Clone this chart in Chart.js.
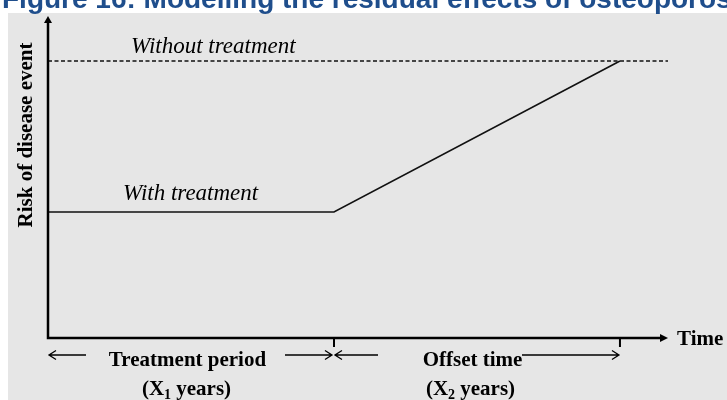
<!DOCTYPE html>
<html>
<head>
<meta charset="utf-8">
<script src="https://cdn.jsdelivr.net/npm/chart.js@4.4.1/dist/chart.umd.min.js"></script>
<style>
    html, body { margin: 0; padding: 0; background: #ffffff; }
    #wrap { width: 727px; height: 400px; }
</style>
</head>
<body>
<div id="wrap"><canvas id="residual-chart" width="727" height="400"></canvas></div>
<script>
// Figure 16 - residual effect of treatment (schematic)

const titleText = 'Figure 16: Modelling the residual effects of osteoporosis treatment';
const yAxisTitle = 'Risk of disease event';
const xAxisTitle = 'Time';

// time in "periods": 0 = start, 1 = end of treatment (X1), 2 = end of offset time (X2)
const timeWithTreatment = [0, 1, 2];
const riskWithTreatment = [0.455, 0.455, 1.0];
const timeWithoutTreatment = [0, 2.168];
const riskWithoutTreatment = [1.0, 1.0];

const seriesLabels = ['With treatment', 'Without treatment'];
const periodTicks = [1, 2];
const periodNames = ['Treatment period', 'Offset time'];
const periodYears = [['X', '1', ' years'], ['X', '2', ' years']];

const serif = '"Liberation Serif", "Times New Roman", serif';

function toPoints(xs, ys) {
    return xs.map((x, i) => ({ x: x, y: ys[i] }));
}

function arrow(ctx, x1, x2, y, head) {
    // thin line with open arrow head at x2
    const dir = x2 > x1 ? 1 : -1;
    ctx.beginPath();
    ctx.moveTo(x1, y);
    ctx.lineTo(x2, y);
    ctx.moveTo(x2 - dir * head, y - 4.5);
    ctx.lineTo(x2, y);
    ctx.lineTo(x2 - dir * head, y + 4.5);
    ctx.stroke();
}

function drawYears(ctx, parts, cx, y) {
    ctx.font = 'bold 21px ' + serif;
    const a = '(' + parts[0];
    const c = parts[2] + ')';
    const wa = ctx.measureText(a).width;
    const wc = ctx.measureText(c).width;
    ctx.font = 'bold 14px ' + serif;
    const wb = ctx.measureText(parts[1]).width;
    let x = cx - (wa + wb + wc) / 2;
    ctx.textAlign = 'left';
    ctx.font = 'bold 21px ' + serif;
    ctx.fillText(a, x, y);
    x += wa;
    ctx.font = 'bold 14px ' + serif;
    ctx.fillText(parts[1], x, y + 4);
    x += wb;
    ctx.font = 'bold 21px ' + serif;
    ctx.fillText(c, x, y);
}

const backgroundPlugin = {
    id: 'panel',
    beforeDraw(chart) {
        const ctx = chart.ctx;
        ctx.save();
        ctx.fillStyle = '#ffffff';
        ctx.fillRect(0, 0, chart.width, chart.height);
        ctx.fillStyle = '#e6e6e6';
        ctx.fillRect(8, 13, chart.width - 8, chart.height - 13);
        // title, clipped by the top of the picture
        ctx.fillStyle = '#1f4e8c';
        ctx.font = 'bold 28px "Liberation Sans", Arial, sans-serif';
        ctx.textBaseline = 'alphabetic';
        ctx.fillText(titleText, 2, 8);
        ctx.restore();
    }
};

const axesPlugin = {
    id: 'schemaAxes',
    afterDatasetsDraw(chart) {
        const ctx = chart.ctx;
        const area = chart.chartArea;
        const xs = chart.scales.x;
        const ys = chart.scales.y;
        const x0 = xs.getPixelForValue(0);
        const y0 = ys.getPixelForValue(0);

        ctx.save();
        ctx.strokeStyle = '#000000';
        ctx.fillStyle = '#000000';

        // axes
        ctx.lineWidth = 2.5;
        ctx.beginPath();
        ctx.moveTo(x0, area.top + 5);
        ctx.lineTo(x0, y0);
        ctx.lineTo(area.right - 6, y0);
        ctx.stroke();
        // arrow heads
        ctx.beginPath();
        ctx.moveTo(x0, area.top);
        ctx.lineTo(x0 - 4, area.top + 7);
        ctx.lineTo(x0 + 4, area.top + 7);
        ctx.closePath();
        ctx.fill();
        ctx.beginPath();
        ctx.moveTo(area.right, y0);
        ctx.lineTo(area.right - 8, y0 - 4);
        ctx.lineTo(area.right - 8, y0 + 4);
        ctx.closePath();
        ctx.fill();

        // ticks at end of each period
        ctx.lineWidth = 2;
        periodTicks.forEach(t => {
            const px = xs.getPixelForValue(t);
            ctx.beginPath();
            ctx.moveTo(px, y0);
            ctx.lineTo(px, y0 + 9);
            ctx.stroke();
        });

        // period arrows
        ctx.lineWidth = 1.3;
        const ay = y0 + 17;
        const p1 = xs.getPixelForValue(1);
        const p2 = xs.getPixelForValue(2);
        arrow(ctx, x0 + 38, x0 + 1, ay, 7);
        arrow(ctx, 285, p1 - 2, ay, 7);
        arrow(ctx, 378, p1 + 1, ay, 7);
        arrow(ctx, 522, p2 - 1, ay, 7);

        // period labels
        ctx.textBaseline = 'alphabetic';
        ctx.textAlign = 'center';
        ctx.font = 'bold 21px ' + serif;
        ctx.fillText(periodNames[0], 187.5, 366);
        ctx.fillText(periodNames[1], 472.5, 366);
        drawYears(ctx, periodYears[0], 186.5, 395);
        drawYears(ctx, periodYears[1], 470.5, 395);

        // axis titles
        ctx.textAlign = 'left';
        ctx.font = 'bold 21px ' + serif;
        ctx.textBaseline = 'middle';
        ctx.fillText(xAxisTitle, 677, y0 + 2);
        ctx.save();
        ctx.translate(27, 135);
        ctx.rotate(-Math.PI / 2);
        ctx.textAlign = 'center';
        ctx.fillText(yAxisTitle, 0, 0);
        ctx.restore();

        // series labels
        ctx.textBaseline = 'alphabetic';
        ctx.textAlign = 'left';
        ctx.font = 'italic 23px ' + serif;
        ctx.fillText(seriesLabels[1], 131, 53);
        ctx.fillText(seriesLabels[0], 123, 200);
        ctx.restore();
    }
};

const ctx = document.getElementById('residual-chart').getContext('2d');
const residualChart = new Chart(ctx, {
    type: 'line',
    data: {
        datasets: [
            {
                label: seriesLabels[0],
                data: toPoints(timeWithTreatment, riskWithTreatment),
                borderColor: '#111111',
                borderWidth: 1.6,
                pointRadius: 0,
                tension: 0
            },
            {
                label: seriesLabels[1],
                data: toPoints(timeWithoutTreatment, riskWithoutTreatment),
                borderColor: '#111111',
                borderWidth: 1.4,
                borderDash: [4, 2.5],
                pointRadius: 0,
                tension: 0
            }
        ]
    },
    options: {
        responsive: false,
        animation: false,
        devicePixelRatio: 1,
        layout: {
            padding: { left: 48, right: 59, top: 16, bottom: 62 }
        },
        plugins: {
            legend: { display: false },
            tooltip: { enabled: false }
        },
        scales: {
            x: { type: 'linear', display: false, min: 0, max: 2.168 },
            y: { type: 'linear', display: false, min: 0, max: 1.1625 }
        }
    },
    plugins: [backgroundPlugin, axesPlugin]
});
</script>
</body>
</html>
